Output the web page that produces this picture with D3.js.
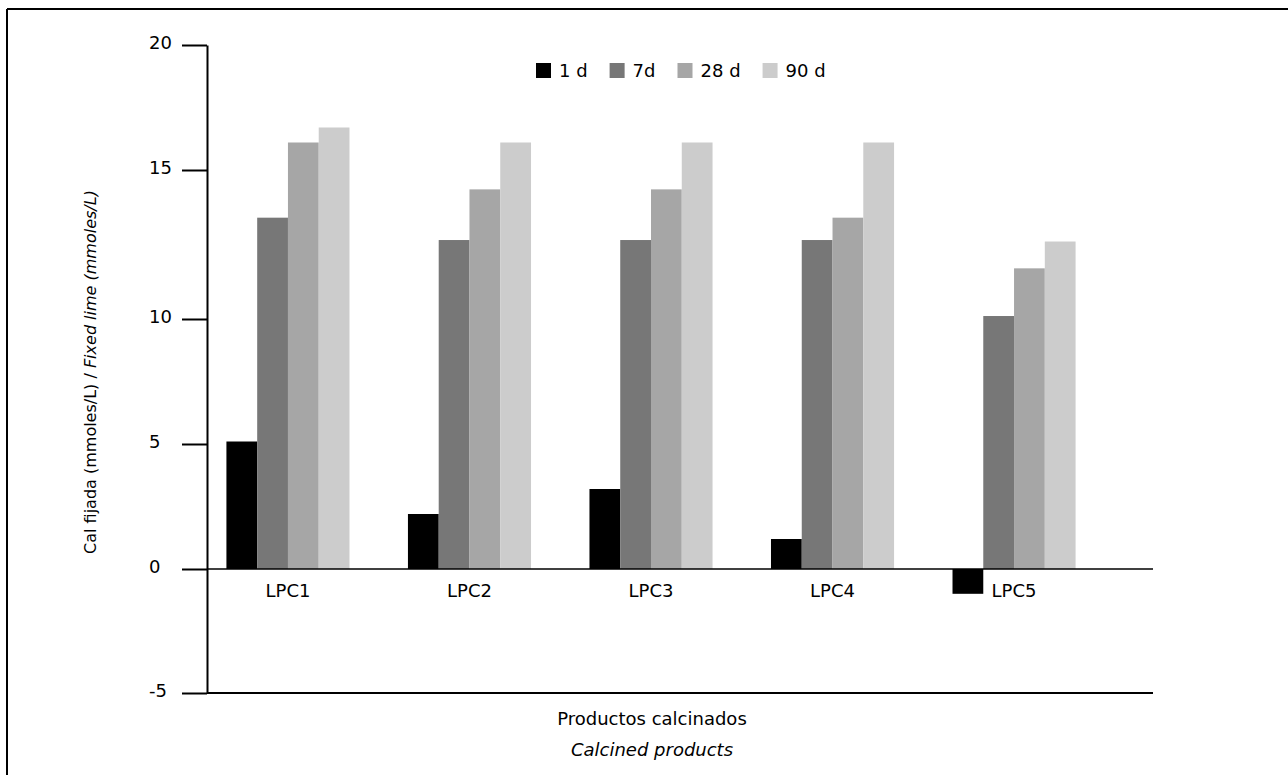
<!DOCTYPE html>
<html>
<head>
<meta charset="utf-8">
<script src="https://cdn.jsdelivr.net/npm/d3@7"></script>
<style>
  body { margin: 0; background: #fff; }
  svg { display: block; font-family: "DejaVu Sans", Verdana, sans-serif; }
</style>
</head>
<body>
<svg class="canvas" width="1288" height="775"></svg>
<script>
// data
const categories = ["LPC1", "LPC2", "LPC3", "LPC4", "LPC5"];
const series = ["1 d", "7d", "28 d", "90 d"];
const d1 = [5.1, 2.2, 3.2, 1.2, -1.0];
const d7 = [13.4, 12.65, 12.65, 12.65, 10.1];
const d28 = [16.1, 14.35, 14.35, 13.4, 11.7];
const d90 = [16.7, 16.1, 16.1, 16.1, 12.6];
const yTicks = [-5, 0, 5, 10, 15, 20];

const values = [d1, d7, d28, d90];
const data = categories.map((c, i) => ({
  name: c,
  vals: series.map((s, j) => ({ key: s, value: values[j][i] })),
}));

const svg = d3.select(".canvas");

// frame (top + left only in the original)
svg.append("line").attr("x1", 7).attr("x2", 1288).attr("y1", 9).attr("y2", 9)
  .attr("stroke", "#000").attr("stroke-width", 2);
svg.append("line").attr("x1", 7).attr("x2", 7).attr("y1", 9).attr("y2", 775)
  .attr("stroke", "#000").attr("stroke-width", 2);

const axisX = 207;
const plotRight = 1153;

// the original axis is not evenly spaced, so keep its tick positions
const y = d3.scaleLinear()
  .domain(yTicks)
  .range([693, 569, 444, 319, 170, 45]);

const x = d3.scaleBand()
  .domain(categories)
  .range([axisX, 1095])
  .paddingInner(0.322)
  .paddingOuter(0.107);

const x1 = d3.scaleBand()
  .domain(series)
  .range([0, x.bandwidth()]);

const color = d3.scaleOrdinal()
  .domain(series)
  .range(["#000000", "#777777", "#a6a6a6", "#cccccc"]);

// bars
const groups = svg.append("g")
  .selectAll("g")
  .data(data)
  .enter()
  .append("g")
  .attr("transform", (d) => `translate(${x(d.name)},0)`);

groups.selectAll("rect")
  .data((d) => d.vals)
  .enter()
  .append("rect")
  .attr("x", (d) => x1(d.key))
  .attr("width", x1.bandwidth())
  .attr("y", (d) => y(Math.max(0, d.value)))
  .attr("height", (d) => Math.abs(y(d.value) - y(0)))
  .attr("fill", (d) => color(d.key));

// zero line and bottom line
[0, -5].forEach((v) => {
  svg.append("line")
    .attr("x1", axisX).attr("x2", plotRight)
    .attr("y1", y(v)).attr("y2", y(v))
    .attr("stroke", "#000").attr("stroke-width", v === 0 ? 1.6 : 2.2);
});

// y axis
const yAxis = d3.axisLeft(y)
  .tickValues(yTicks)
  .tickSize(25)
  .tickSizeOuter(0)
  .tickFormat((d) => d);

const yAxisGroup = svg.append("g")
  .attr("transform", `translate(${axisX},0)`)
  .call(yAxis);

yAxisGroup.select(".domain").attr("stroke-width", 2);
yAxisGroup.selectAll(".tick line").attr("stroke-width", 2);
yAxisGroup.selectAll("text")
  .attr("x", -58)
  .attr("text-anchor", "start")
  .attr("dy", "0.2em")
  .style("font-family", "DejaVu Sans")
  .style("font-size", "18px")
  .attr("fill", "#000");

// category labels under the zero line
svg.append("g")
  .selectAll("text")
  .data(categories)
  .enter()
  .append("text")
  .attr("x", (d) => x(d) + x.bandwidth() / 2)
  .attr("y", y(0) + 28)
  .attr("text-anchor", "middle")
  .style("font-size", "18px")
  .text((d) => d);

// legend
const legend = svg.append("g").attr("transform", "translate(536,63)");
let lx = 0;
series.forEach((s) => {
  legend.append("rect")
    .attr("x", lx).attr("y", 0)
    .attr("width", 15).attr("height", 15)
    .attr("fill", color(s));
  const t = legend.append("text")
    .attr("x", lx + 23).attr("y", 14)
    .style("font-size", "18px")
    .text(s);
  lx += 23 + t.node().getComputedTextLength() + 22;
});

// axis titles
const yTitle = svg.append("text")
  .attr("transform", "translate(96,372) rotate(-90)")
  .attr("text-anchor", "middle")
  .style("font-size", "16px");
yTitle.append("tspan").text("Cal fijada (mmoles/L) / ");
yTitle.append("tspan").style("font-style", "italic").text("Fixed lime (mmoles/L)");

svg.append("text")
  .attr("x", 652).attr("y", 725)
  .attr("text-anchor", "middle")
  .style("font-size", "18px")
  .text("Productos calcinados");

svg.append("text")
  .attr("x", 652).attr("y", 756)
  .attr("text-anchor", "middle")
  .style("font-size", "18px")
  .style("font-style", "italic")
  .text("Calcined products");
</script>
</body>
</html>
